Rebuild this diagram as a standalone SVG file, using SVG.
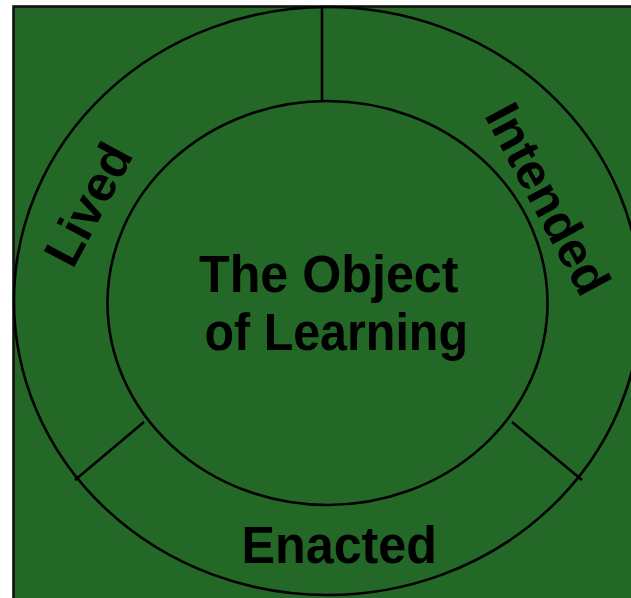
<svg xmlns="http://www.w3.org/2000/svg" width="631" height="598" viewBox="0 0 631 598">
  <style>
    .ring { fill: none; stroke: #000; stroke-width: 2.6; }
    .div { stroke: #000; stroke-width: 2.6; fill: none; }
    .lbl { font-family: "Liberation Sans", Arial, sans-serif; font-weight: bold; font-size: 51px; fill: #000; }
    .arc { font-size: 50px; }
  </style>
  <rect width="631" height="598" fill="#ffffff"/>
  <rect id="background" x="13.5" y="6.5" width="640" height="620" fill="#236826" stroke="#111111" stroke-width="2.6"/>
  <g id="outer-ring">
    <ellipse class="ring" cx="327.5" cy="301" rx="313.5" ry="294"/>
  </g>
  <g id="connectors">
    <line class="div" x1="322" y1="7" x2="322" y2="101"/>
    <line class="div" x1="144" y1="422" x2="75" y2="480"/>
    <line class="div" x1="512" y1="422" x2="582" y2="480"/>
  </g>
  <g id="object-of-learning">
    <ellipse class="ring" cx="327.5" cy="303" rx="220" ry="202"/>
    <text class="lbl" x="199" y="292" textLength="259.5" lengthAdjust="spacingAndGlyphs">The Object</text>
    <text class="lbl" x="204.5" y="350" textLength="263.5" lengthAdjust="spacingAndGlyphs">of Learning</text>
  </g>
  <g id="lived">
    <text class="lbl arc" text-anchor="middle" transform="translate(87.5,204) rotate(-62)" y="18">Lived</text>
  </g>
  <g id="intended">
    <text class="lbl arc" text-anchor="middle" transform="translate(548.5,198.5) rotate(62)" y="18">Intended</text>
  </g>
  <g id="enacted">
    <text class="lbl" x="241.5" y="563" textLength="195.5" lengthAdjust="spacingAndGlyphs">Enacted</text>
  </g>
</svg>
